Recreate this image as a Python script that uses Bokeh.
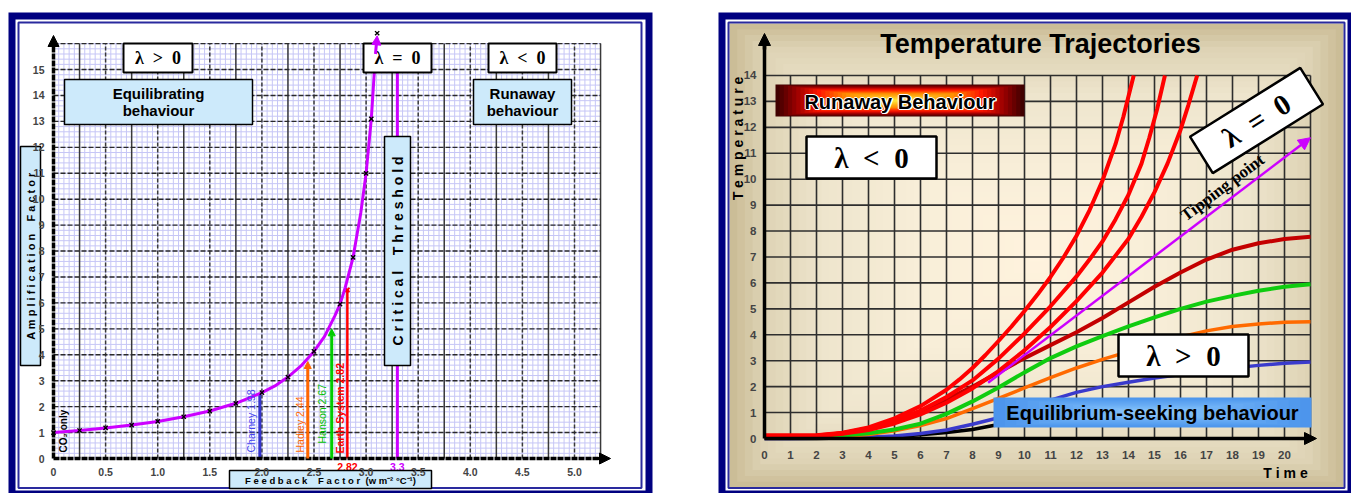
import numpy as np
from math import pi
from bokeh.plotting import figure
from bokeh.models import Range1d, LinearAxis, FixedTicker, Arrow, NormalHead
from bokeh.layouts import row
from bokeh.embed import file_html
from bokeh.resources import INLINE
from bokeh.core.properties import value

# ------------------------- LEFT CHART DATA -------------------------
feedback_x    = [0, 0.25, 0.5, 0.75, 1.0, 1.25, 1.5, 1.75, 2.0, 2.125, 2.25, 2.375, 2.5,
                 2.6, 2.7, 2.75, 2.8, 2.875, 2.95, 3.0, 3.05, 3.09]
amplification = [1.0, 1.08, 1.18, 1.29, 1.43, 1.61, 1.83, 2.13, 2.54, 2.8, 3.14, 3.57, 4.13,
                 4.7, 5.5, 5.95, 6.6, 7.76, 9.5, 11.0, 13.1, 15.6]
marker_x = [0, 0.25, 0.5, 0.75, 1.0, 1.25, 1.5, 1.75, 2.0, 2.25, 2.5, 2.75, 2.875, 3.0, 3.05, 3.106]
marker_y = [1.0, 1.08, 1.18, 1.29, 1.43, 1.61, 1.83, 2.13, 2.54, 3.14, 4.13, 5.95, 7.76, 11.0, 13.1, 16.4]
estimate_names = ["Charney 1.98", "Hadley 2.44", "Hanson 2.67", "Earth System 2.82"]
estimate_x     = [1.98, 2.44, 2.67, 2.82]
estimate_top   = [2.5, 3.74, 5.0, 6.5]
critical_x = 3.3
critical_label = "3.3"
earth_label = "2.82"
xtick_vals   = [0, 0.5, 1.0, 1.5, 2.0, 2.5, 3.0, 3.5, 4.0, 4.5, 5.0]
xtick_labels = ["0", "0.5", "1.0", "1.5", "2.0", "2.5", "3.0", "3.5", "4.0", "4.5", "5.0"]
ytick_vals   = list(range(0, 16))

# ------------------------- RIGHT CHART DATA -------------------------
time = list(range(0, 22))
temp_blue    = [0.0, 0.0, 0.01, 0.03, 0.05, 0.1, 0.19, 0.33, 0.55, 0.8, 1.12, 1.48, 1.78, 2.0,
                2.17, 2.33, 2.47, 2.6, 2.72, 2.82, 2.9, 2.95]
temp_orange  = [0.05, 0.05, 0.05, 0.08, 0.15, 0.3, 0.5, 0.77, 1.15, 1.55, 1.95, 2.35, 2.72, 3.05,
                3.35, 3.65, 3.92, 4.15, 4.32, 4.42, 4.48, 4.5]
temp_green   = [0.1, 0.1, 0.1, 0.12, 0.2, 0.35, 0.57, 0.95, 1.43, 1.97, 2.55, 3.1, 3.55, 3.95,
                4.32, 4.67, 5.0, 5.28, 5.5, 5.7, 5.85, 5.95]
temp_darkred = [0.05, 0.05, 0.1, 0.2, 0.4, 0.7, 1.05, 1.5, 2.0, 2.55, 3.1, 3.6, 4.1, 4.65,
                5.25, 5.85, 6.4, 6.9, 7.28, 7.53, 7.69, 7.78]
run1_t = [0, 1, 2, 3, 4, 5, 6, 7, 7.5, 8, 8.5, 9, 9.5, 10, 10.5, 11, 11.5, 12, 12.5, 13, 13.5,
          13.8, 14.0, 14.2]
run1_T = [0.12, 0.12, 0.13, 0.22, 0.43, 0.78, 1.25, 1.88, 2.28, 2.72, 3.22, 3.76, 4.32, 4.92,
          5.55, 6.23, 6.98, 7.82, 8.8, 9.95, 11.35, 12.4, 13.2, 14.0]
run2_t = [0, 1, 2, 3, 4, 5, 6, 7, 8, 9, 10, 11, 12, 12.5, 13, 13.5, 14, 14.5, 14.8, 15.1, 15.4]
run2_T = [0.12, 0.12, 0.12, 0.2, 0.38, 0.68, 1.08, 1.6, 2.24, 3.08, 4.05, 5.1, 6.25, 6.9, 7.6,
          8.45, 9.4, 10.6, 11.6, 12.7, 14.0]
run3_t = [0, 1, 2, 3, 4, 5, 6, 7, 8, 9, 10, 11, 12, 13, 14, 14.5, 15, 15.5, 16, 16.3, 16.64]
run3_T = [0.1, 0.1, 0.1, 0.18, 0.33, 0.58, 0.93, 1.38, 1.93, 2.6, 3.4, 4.3, 5.3, 6.4, 7.7, 8.55,
          9.5, 10.6, 11.9, 12.85, 14.0]
zero_t = [0, 2, 4, 5, 6, 7, 8, 8.8, 9.6]
zero_T = [0.0, 0.0, 0.04, 0.08, 0.14, 0.23, 0.35, 0.5, 0.62]
tip_t = [8.6, 21.0]
tip_T = [2.15, 11.6]
time_ticks = list(range(0, 21))
temp_ticks = list(range(0, 15))

# ------------------------- helpers -------------------------
SANS = "Liberation Sans"
SERIF = "Liberation Serif"
NAVY = "#000080"
THIN = "#2a2a9e"
MAG = "#cc00ff"
NB = "\u00a0"
H = 493
W1 = 685
W2 = 666


def hex2rgb(h):
    return tuple(int(h[i:i + 2], 16) for i in (1, 3, 5))


def mix(stops, s):
    for (p0, c0), (p1, c1) in zip(stops[:-1], stops[1:]):
        if s <= p1:
            f = (s - p0) / (p1 - p0) if p1 > p0 else 0.0
            a, b = hex2rgb(c0), hex2rgb(c1)
            return "#%02x%02x%02x" % tuple(int(round(a[i] + (b[i] - a[i]) * f)) for i in range(3))
    return stops[-1][1]


def gradient_box(p, l, r, t, b, stops, n):
    cx, cy = (l + r) / 2, (t + b) / 2
    L, R, T, B, C = [], [], [], [], []
    for k in range(n):
        s = k / n
        L.append(l + (cx - l) * s)
        R.append(r - (r - cx) * s)
        T.append(t - (t - cy) * s)
        B.append(b + (cy - b) * s)
        C.append(mix(stops, s))
    p.quad(left=L, right=R, top=T, bottom=B, fill_color=C, line_color=None)


def txt(p, x, y, s, size, color="black", style="bold", font=SANS, align="center",
        baseline="middle", angle=0.0, x_offset=0, y_offset=0):
    p.text(x=[x], y=[y], text=[s], text_font=value(font), text_font_size=f"{size}px",
           text_font_style=style, text_color=color, text_align=align, text_baseline=baseline,
           angle=angle, x_offset=x_offset, y_offset=y_offset)


def box(p, l, r, t, b, fill, line="black", lw=1.5):
    p.quad(left=[l], right=[r], top=[t], bottom=[b], fill_color=fill, line_color=line, line_width=lw)


def spaced(word):
    return " ".join(word)


def make_fig(w, xr, yr):
    p = figure(width=w, height=H, x_range=Range1d(*xr), y_range=Range1d(*yr),
               output_backend="svg", toolbar_location=None, x_axis_location=None,
               y_axis_location=None, min_border=0)
    p.outline_line_color = None
    p.background_fill_color = "white"
    p.border_fill_color = "white"
    p.grid.visible = False
    return p


# ============================ LEFT PANEL ============================
def lx(px):  # page px -> data
    return (px - 53.0) / 104.2


def ly(py):
    return (458.0 - py) / 25.93


p1 = make_fig(W1, (lx(0), lx(W1)), (ly(H), ly(0)))

# frame
box(p1, lx(8), lx(652), ly(12), ly(494), NAVY, None)
box(p1, lx(15), lx(645), ly(19), ly(490), "white", None)
p1.quad(left=[lx(18)], right=[lx(641)], top=[ly(22)], bottom=[ly(487.5)],
        fill_color=None, line_color=THIN, line_width=2)

# graph-paper grid
xs_minor = np.arange(1, 106) * 0.05
ys_minor = np.arange(1, 81) * 0.2
p1.segment(x0=xs_minor, y0=0, x1=xs_minor, y1=16, line_color="#c6c6f6", line_width=1)
p1.segment(x0=0, y0=ys_minor, x1=5.25, y1=ys_minor, line_color="#c6c6f6", line_width=1)
xs_solid = 0.25 * np.arange(1, 22, 2)
xs_dash = 0.5 * np.arange(1, 11)
p1.segment(x0=xs_solid, y0=0, x1=xs_solid, y1=16, line_color="#3a3a3a", line_width=1.5)
p1.segment(x0=xs_dash, y0=0, x1=xs_dash, y1=16, line_color="#3a3a3a", line_width=1.5,
           line_dash="4 2")
ys_major = np.arange(1, 17)
p1.segment(x0=0, y0=ys_major, x1=5.25, y1=ys_major, line_color="#2a2a2a", line_width=1.4,
           line_dash="5 2")

# estimate lines
est_colors = ["#3333cc", "#ff6600", "#00cc00", "#ff0000"]
est_text_colors = ["#4444ee", "#ff6600", "#00c000", "#ff0000"]
est_styles = ["normal", "normal", "normal", "bold"]
est_offsets = [-3, -2, -4, -1]
est_starts = [ly(452), ly(452), ly(443), ly(453)]
p1.segment(x0=estimate_x[0], y0=0, x1=estimate_x[0], y1=estimate_top[0],
           line_color=est_colors[0], line_width=3)
for i in (1, 2):
    p1.add_layout(Arrow(end=NormalHead(size=7, fill_color=est_colors[i], line_color=est_colors[i]),
                        x_start=estimate_x[i], y_start=0, x_end=estimate_x[i], y_end=estimate_top[i],
                        line_color=est_colors[i], line_width=3))
p1.segment(x0=estimate_x[3], y0=0, x1=estimate_x[3], y1=estimate_top[3],
           line_color=est_colors[3], line_width=2.5)
p1.scatter(x=[estimate_x[3]], y=[estimate_top[3]], marker="x", size=6,
           line_color=est_colors[3], line_width=2)

# critical threshold line
p1.segment(x0=critical_x, y0=0, x1=critical_x, y1=ly(72), line_color=MAG, line_width=3)

# amplification curve
p1.line(feedback_x, amplification, line_color=MAG, line_width=3)
p1.add_layout(Arrow(end=NormalHead(size=9, fill_color=MAG, line_color=MAG),
                    x_start=feedback_x[-1], y_start=amplification[-1],
                    x_end=marker_x[-1], y_end=marker_y[-1] - 0.1, line_color=MAG, line_width=3))
p1.scatter(x=marker_x, y=marker_y, marker="x", size=6, line_color="black", line_width=1.4)

# rotated estimate labels
for i in range(4):
    txt(p1, estimate_x[i], est_starts[i], estimate_names[i], 10.5, color=est_text_colors[i],
        style=est_styles[i], align="left", baseline="bottom", angle=pi / 2,
        x_offset=est_offsets[i])
txt(p1, lx(57), ly(452), "CO\u2082 only", 10, align="left", baseline="top", angle=pi / 2)

# coloured extra tick labels
txt(p1, estimate_x[3], ly(466.5), earth_label, 10.5, color="#ff0000")
txt(p1, critical_x, ly(466.5), critical_label, 10.5, color=MAG)

# boxes
LIGHT = "#cdeafb"
box(p1, lx(123), lx(192), ly(43), ly(72), "white", lw=2)
txt(p1, lx(157.5), ly(57.5), f"\u03bb {NB}>{NB} 0", 18, font=SERIF)
box(p1, lx(363), lx(431), ly(43), ly(72), "white", lw=2)
txt(p1, lx(397), ly(57.5), f"\u03bb {NB}={NB} 0", 18, font=SERIF)
box(p1, lx(488), lx(556), ly(43), ly(72), "white", lw=2)
txt(p1, lx(522), ly(57.5), f"\u03bb {NB}<{NB} 0", 18, font=SERIF)

box(p1, lx(64), lx(252), ly(79), ly(124), LIGHT)
txt(p1, lx(158), ly(93), "Equilibrating", 15)
txt(p1, lx(158), ly(110), "behaviour", 15)
box(p1, lx(473), lx(571), ly(79), ly(124), LIGHT)
txt(p1, lx(522), ly(93), "Runaway", 15)
txt(p1, lx(522), ly(110), "behaviour", 15)

GAP = f" {NB}{NB} "
box(p1, lx(384), lx(410), ly(136), ly(365), LIGHT)
txt(p1, lx(397), ly(250.5), spaced("Critical") + GAP + spaced("Threshold"), 14, angle=pi / 2)
box(p1, lx(20), lx(40), ly(146), ly(365), LIGHT)
txt(p1, lx(30.5), ly(255.5), spaced("Amplification") + GAP + spaced("Factor"), 11, angle=pi / 2)
box(p1, lx(229), lx(431), ly(470), ly(488), LIGHT)
txt(p1, lx(330), ly(479.5), spaced("Feedback") + GAP + spaced("Factor") + f" {NB}" +
    "(w m\u207b\u00b2 \u00b0C\u207b\u00b9)", 9.5)

# axes
xax1 = LinearAxis(fixed_location=0, ticker=FixedTicker(ticks=xtick_vals),
                  major_label_overrides=dict(zip(xtick_vals, xtick_labels)), bounds=(0, 5.3),
                  axis_line_width=3.5, axis_line_color="black", axis_line_dash="6 1",
                  major_tick_line_color=None, minor_tick_line_color=None,
                  major_label_text_font=SANS, major_label_text_font_style="bold",
                  major_label_text_font_size="10.5px", major_label_standoff=3)
p1.add_layout(xax1, "below")
yax1 = LinearAxis(fixed_location=0, ticker=FixedTicker(ticks=ytick_vals), bounds=(0, 16.1),
                  axis_line_width=3.5, axis_line_color="black", axis_line_dash="6 1",
                  major_tick_line_color=None, minor_tick_line_color=None,
                  major_label_text_font=SANS, major_label_text_font_style="bold",
                  major_label_text_font_size="10.5px", major_label_standoff=3)
p1.add_layout(yax1, "left")
p1.add_layout(Arrow(end=NormalHead(size=11, fill_color="black", line_color="black"),
                    x_start=5.2, y_start=0, x_end=lx(610), y_end=0, line_width=3))
p1.add_layout(Arrow(end=NormalHead(size=11, fill_color="black", line_color="black"),
                    x_start=0, y_start=15.9, x_end=0, y_end=ly(35), line_width=3))

# ============================ RIGHT PANEL ============================
def rx(px):
    return (px - 764.0) / 26.0


def ry(py):
    return (438.0 - py) / 25.93


p2 = make_fig(W2, (rx(W1), rx(W1 + W2)), (ry(H), ry(0)))

box(p2, rx(718), rx(1352), ry(12), ry(494), NAVY, None)
box(p2, rx(725), rx(1347), ry(19), ry(490), "white", None)
gradient_box(p2, rx(729), rx(1343), ry(23), ry(487),
             [(0.0, "#cbbd97"), (0.1, "#ded3b5"), (0.3, "#eee5cd"), (0.6, "#f8eed8"),
              (1.0, "#fff3de")], 40)
p2.quad(left=[rx(728)], right=[rx(1344)], top=[ry(22)], bottom=[ry(487.5)],
        fill_color=None, line_color=THIN, line_width=2)

# grid
gt = np.arange(1, 22)
gT = np.arange(1, 15)
p2.segment(x0=gt, y0=0, x1=gt, y1=14, line_color="#2e2e2e", line_width=1.6)
p2.segment(x0=0, y0=gT, x1=21, y1=gT, line_color="#2e2e2e", line_width=1.6)

# curves
p2.line(zero_t, zero_T, line_color="black", line_width=3.5)
p2.line(time, temp_blue, line_color="#3a3acc", line_width=3.5)
p2.line(time, temp_orange, line_color="#ff6a00", line_width=3.5)
p2.line(time, temp_green, line_color="#10cc10", line_width=4)
p2.line(time, temp_darkred, line_color="#c40000", line_width=4)
p2.add_layout(Arrow(end=NormalHead(size=12, fill_color=MAG, line_color=MAG),
                    x_start=tip_t[0], y_start=tip_T[0], x_end=tip_t[1], y_end=tip_T[1],
                    line_color=MAG, line_width=2.5))
p2.line(run3_t, run3_T, line_color="#ff0000", line_width=4)
p2.line(run2_t, run2_T, line_color="#ff0000", line_width=4)
p2.line(run1_t, run1_T, line_color="#ff0000", line_width=4)

# title and axis titles
txt(p2, rx(1040), ry(43), "Temperature Trajectories", 27)
txt(p2, rx(1285), ry(472), spaced("Time"), 14)
txt(p2, rx(737), ry(138), spaced("Temperature"), 14, angle=pi / 2)

# runaway box
gradient_box(p2, rx(775), rx(1024), ry(84), ry(116),
             [(0.0, "#400000"), (0.15, "#9a0000"), (0.33, "#ff1500"), (0.55, "#ff8c00"),
              (1.0, "#fff040")], 30)
for dx, dy in ((1.5, 0), (-1, 0), (0, 1.5), (0, -1), (1.5, 1.5)):
    txt(p2, rx(899.5), ry(101), "Runaway Behaviour", 20, color="white", x_offset=dx, y_offset=dy)
txt(p2, rx(899.5), ry(101), "Runaway Behaviour", 20)

# lambda boxes
box(p2, rx(806), rx(936), ry(136), ry(178), "white", lw=2.5)
txt(p2, rx(871), ry(157), f"\u03bb {NB}<{NB} 0", 29, font=SERIF)
box(p2, rx(1118), rx(1248), ry(334), ry(376), "white", lw=2.5)
txt(p2, rx(1183), ry(355), f"\u03bb {NB}>{NB} 0", 29, font=SERIF)
p2.rect(x=[rx(1256)], y=[ry(120)], width=130, height=43, width_units="screen",
        height_units="screen", angle=32, angle_units="deg", fill_color="white",
        line_color="black", line_width=2.5)
txt(p2, rx(1256), ry(120), f"\u03bb {NB}={NB} 0", 29, font=SERIF, angle=32 * pi / 180)
txt(p2, rx(1222), ry(187), "Tipping point", 17, font=SERIF, angle=37 * pi / 180)

# equilibrium box
gradient_box(p2, rx(993), rx(1311), ry(397), ry(427),
             [(0.0, "#4d95ec"), (0.5, "#6aaef5"), (1.0, "#95ccfb")], 14)
txt(p2, rx(1152), ry(412), "Equilibrium-seeking behaviour", 20)

# axes
xax2 = LinearAxis(fixed_location=0, ticker=FixedTicker(ticks=time_ticks), bounds=(0, 21.1),
                  axis_line_width=3.5, axis_line_color="black",
                  major_tick_line_color=None, minor_tick_line_color=None,
                  major_label_text_font=SANS, major_label_text_font_style="bold",
                  major_label_text_font_size="11.5px", major_label_standoff=6)
p2.add_layout(xax2, "below")
yax2 = LinearAxis(fixed_location=0, ticker=FixedTicker(ticks=temp_ticks), bounds=(0, 15.3),
                  axis_line_width=3.5, axis_line_color="black",
                  major_tick_line_color=None, minor_tick_line_color=None,
                  major_label_text_font=SANS, major_label_text_font_style="bold",
                  major_label_text_font_size="11.5px", major_label_standoff=2)
p2.add_layout(yax2, "left")
p2.add_layout(Arrow(end=NormalHead(size=12, fill_color="black", line_color="black"),
                    x_start=20.9, y_start=0, x_end=rx(1316), y_end=0, line_width=3.5))
p2.add_layout(Arrow(end=NormalHead(size=12, fill_color="black", line_color="black"),
                    x_start=0, y_start=15.0, x_end=0, y_end=ry(33), line_width=3.5))

layout = row(p1, p2)
open("out.html", "w").write(file_html(layout, INLINE))
